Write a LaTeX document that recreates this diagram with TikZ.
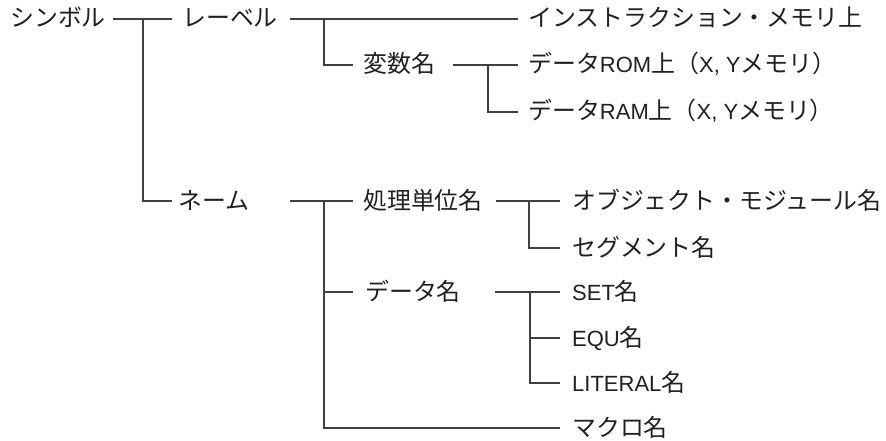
\documentclass[tikz,border=0pt]{standalone}
\usepackage{fontspec}
\setmainfont{Liberation Sans}
\newfontfamily\jp[Scale=1.087]{Noto Sans CJK JP}
\newcommand\J[1]{{\jp #1}}
\definecolor{txtc}{HTML}{231F20}
\definecolor{linec}{HTML}{404040}
\begin{document}
\begin{tikzpicture}[x=1pt,y=-1pt,
  txt/.style={anchor=west, inner xsep=10pt, inner ysep=0pt, text height=20pt, text depth=4pt,
    text=txtc, font=\fontsize{22}{26}\selectfont},
  txtr/.style={txt, inner xsep=12pt},
  conn/.style={draw=linec, line width=1.2pt}]
\useasboundingbox (0,0) rectangle (886,441);
% nodes
\node[txt, inner xsep=0pt] (sym) at (10,19) {\J{シンボル}};
\node[txt] (lab) at (172,19) {\J{レーベル}};
\node[txt] (inst) at (518,19) {\J{インストラクション・メモリ上}};
\node[txt] (var) at (353,65) {\J{変数名}};
\node[txt] (drom) at (518,65) {\J{データ}ROM\J{上（}X, Y\J{メモリ）}};
\node[txt] (dram) at (518,112) {\J{データ}RAM\J{上（}X, Y\J{メモリ）}};
\node[txt, inner xsep=6pt] (name) at (172,201) {\J{ネーム}};
\node[txt] (proc) at (353,201) {\J{処理単位名}};
\node[txtr] (obj) at (560,201) {\J{オブジェクト・モジュール名}};
\node[txtr] (seg) at (560,248) {\J{セグメント名}};
\node[txt, inner xsep=12pt] (data) at (353,292) {\J{データ名}};
\node[txtr] (set) at (560,292) {SET\J{名}};
\node[txtr] (equ) at (560,338) {EQU\J{名}};
\node[txtr] (lit) at (560,383) {LITERAL\J{名}};
\node[txtr] (mac) at (560,428) {\J{マクロ名}};
% coordinates
\coordinate (s0) at (113,19);
\coordinate (j1) at (143,19);
\coordinate (l0) at (290,19);
\coordinate (j2) at (324,19);
\coordinate (v0) at (453,65);
\coordinate (j3) at (488,65);
\coordinate (n0) at (290,201);
\coordinate (j4) at (324,201);
\coordinate (p0) at (496,201);
\coordinate (j5) at (529,201);
\coordinate (d0) at (495,292);
\coordinate (j6) at (530,292);
% connectors
\draw[conn] (s0) -- (lab.west);
\draw[conn] (j1) |- (name.west);
\draw[conn] (l0) -- (inst.west);
\draw[conn] (j2) |- (var.west);
\draw[conn] (v0) -- (drom.west);
\draw[conn] (j3) |- (dram.west);
\draw[conn] (n0) -- (proc.west);
\draw[conn] (j4) |- (data.west);
\draw[conn] (j4) |- (mac.west);
\draw[conn] (p0) -- (obj.west);
\draw[conn] (j5) |- (seg.west);
\draw[conn] (d0) -- (set.west);
\draw[conn] (j6) |- (equ.west);
\draw[conn] (j6) |- (lit.west);
\end{tikzpicture}
\end{document}
